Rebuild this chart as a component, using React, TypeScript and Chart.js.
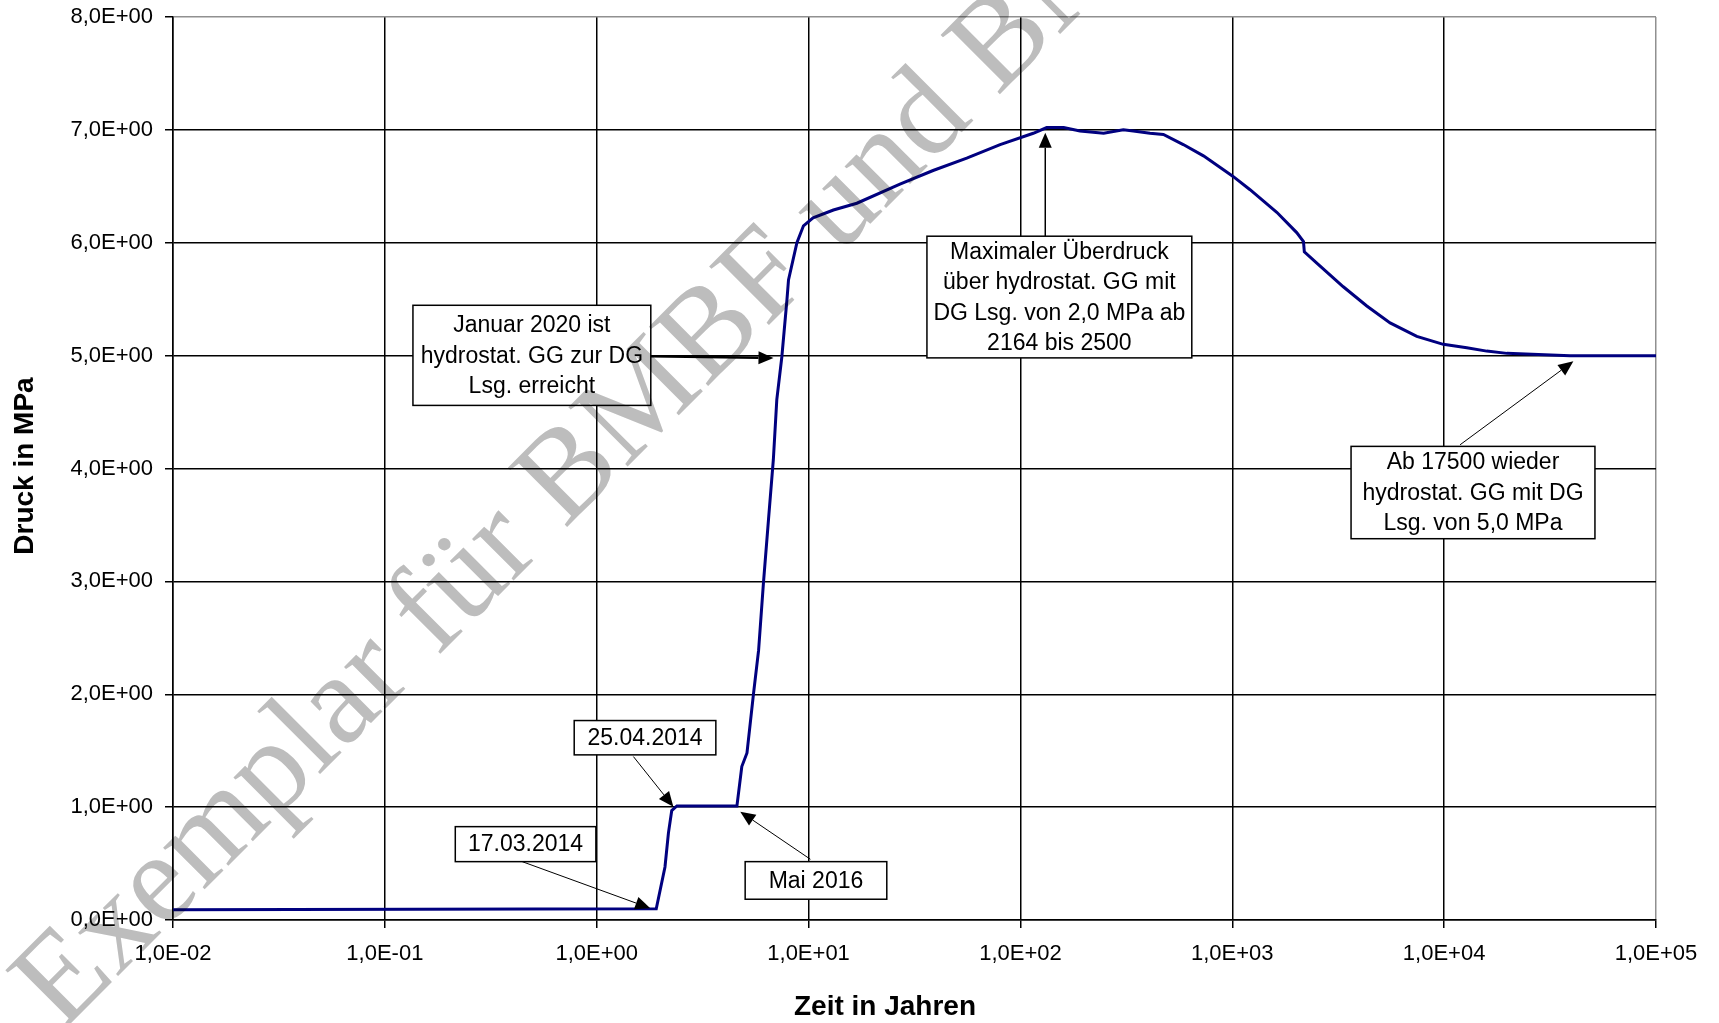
import React, { useEffect, useRef } from 'react';
import { Chart, registerables } from 'chart.js';

Chart.register(...registerables);

// ---- data ----
const timeYears = [
  0.01, 1.91, 2.10, 2.18, 2.26, 2.39,
  4.59, 4.84, 5.12, 5.50, 5.81,
  6.12, 6.47, 6.82, 7.08, 7.48,
  7.91, 8.04, 8.81, 9.46, 10.5,
  13.1, 16.9, 27.0, 38.7, 55.8,
  80.2, 115, 133, 160, 191,
  247, 306, 341, 409, 473,
  587, 731, 1005, 1213, 1622,
  2014, 2168, 2188, 2506, 3342,
  4315, 5559, 7430, 9908, 12790,
  15890, 19770, 39260, 100000,
];
const pressureMPa = [
  0.09, 0.10, 0.47, 0.77, 0.97, 1.01,
  1.01, 1.36, 1.48, 2.01, 2.39,
  2.98, 3.55, 4.08, 4.61, 4.99,
  5.50, 5.67, 6.00, 6.15, 6.22,
  6.29, 6.35, 6.52, 6.64, 6.75,
  6.87, 6.97, 7.02, 7.02, 6.99,
  6.97, 7.00, 6.99, 6.97, 6.96,
  6.87, 6.77, 6.59, 6.47, 6.27,
  6.09, 6.01, 5.92, 5.82, 5.61,
  5.44, 5.29, 5.17, 5.10, 5.07,
  5.04, 5.02, 5.00, 5.00,
];

const xTickValues = [0.01, 0.1, 1, 10, 100, 1000, 10000, 100000];
const xTickLabels = ['1,0E-02', '1,0E-01', '1,0E+00', '1,0E+01', '1,0E+02', '1,0E+03', '1,0E+04', '1,0E+05'];
const yTickValues = [0, 1, 2, 3, 4, 5, 6, 7, 8];
const yTickLabels = ['0,0E+00', '1,0E+00', '2,0E+00', '3,0E+00', '4,0E+00', '5,0E+00', '6,0E+00', '7,0E+00', '8,0E+00'];

const xTitle = 'Zeit in Jahren';
const yTitle = 'Druck in MPa';
const watermarkText = 'Exemplar für BMBF und BMU';

// annotation boxes (corners in data units: years / MPa)
const noteBoxes = [
  { lines: ['17.03.2014'], x1: 0.215, x2: 0.991, y1: 0.827, y2: 0.517 },
  { lines: ['25.04.2014'], x1: 0.783, x2: 3.65, y1: 1.767, y2: 1.463 },
  { lines: ['Mai 2016'], x1: 5.02, x2: 23.4, y1: 0.517, y2: 0.184 },
  { lines: ['Januar 2020 ist', 'hydrostat. GG zur DG', 'Lsg. erreicht'], x1: 0.1357, x2: 1.80, y1: 5.446, y2: 4.559 },
  { lines: ['Maximaler Überdruck', 'über hydrostat. GG mit', 'DG Lsg. von 2,0 MPa ab', '2164 bis 2500'], x1: 36.2, x2: 644, y1: 6.058, y2: 4.98 },
  { lines: ['Ab 17500 wieder', 'hydrostat. GG mit DG', 'Lsg. von 5,0 MPa'], x1: 3636, x2: 51500, y1: 4.196, y2: 3.378 },
];
// arrows (start and tip in data units)
const noteArrows = [
  { x0: 0.445, y0: 0.517, x1: 1.79, y1: 0.104, w: 1 },
  { x0: 1.49, y0: 1.448, x1: 2.30, y1: 1.004, w: 1 },
  { x0: 10.2, y0: 0.538, x1: 4.76, y1: 0.96, w: 1 },
  { x0: 1.80, y0: 4.994, x1: 6.83, y1: 4.98, w: 2.5 },
  { x0: 131, y0: 6.058, x1: 131, y1: 6.974, w: 1.5 },
  { x0: 11890, y0: 4.21, x1: 40740, y1: 4.95, w: 1 },
];

const SANS = '"Liberation Sans", Arial, Helvetica, sans-serif';

const fmtX = (v: number) => {
  const i = xTickValues.findIndex((t) => Math.abs(Math.log10(t) - Math.log10(v)) < 1e-6);
  return i >= 0 ? xTickLabels[i] : '';
};
const fmtY = (v: number) => {
  const i = yTickValues.findIndex((t) => Math.abs(t - v) < 1e-6);
  return i >= 0 ? yTickLabels[i] : '';
};

const annotationPlugin = {
  id: 'notes',
  afterDatasetsDraw(chart: any) {
    const { ctx } = chart;
    const xs = chart.scales.x;
    const ys = chart.scales.y;
    ctx.save();
    noteArrows.forEach((a) => {
      const px0 = xs.getPixelForValue(a.x0);
      const py0 = ys.getPixelForValue(a.y0);
      const px1 = xs.getPixelForValue(a.x1);
      const py1 = ys.getPixelForValue(a.y1);
      const ang = Math.atan2(py1 - py0, px1 - px0);
      const headLen = 15;
      const headW = 6.5;
      const bx = px1 - headLen * Math.cos(ang);
      const by = py1 - headLen * Math.sin(ang);
      ctx.strokeStyle = '#000';
      ctx.lineWidth = a.w;
      ctx.beginPath();
      ctx.moveTo(px0, py0);
      ctx.lineTo(bx, by);
      ctx.stroke();
      ctx.fillStyle = '#000';
      ctx.beginPath();
      ctx.moveTo(px1, py1);
      ctx.lineTo(bx + headW * Math.sin(ang), by - headW * Math.cos(ang));
      ctx.lineTo(bx - headW * Math.sin(ang), by + headW * Math.cos(ang));
      ctx.closePath();
      ctx.fill();
    });
    noteBoxes.forEach((b) => {
      const l = xs.getPixelForValue(b.x1);
      const r = xs.getPixelForValue(b.x2);
      const t = ys.getPixelForValue(b.y1);
      const bt = ys.getPixelForValue(b.y2);
      ctx.fillStyle = '#fff';
      ctx.fillRect(l, t, r - l, bt - t);
      ctx.strokeStyle = '#000';
      ctx.lineWidth = 1.5;
      ctx.strokeRect(l, t, r - l, bt - t);
      ctx.fillStyle = '#000';
      ctx.font = '23px ' + SANS;
      ctx.textAlign = 'center';
      ctx.textBaseline = 'middle';
      const lh = 30.5;
      const cx = (l + r) / 2;
      const cy = (t + bt) / 2;
      const n = b.lines.length;
      b.lines.forEach((s, i) => {
        ctx.fillText(s, cx, cy + (i - (n - 1) / 2) * lh + 1);
      });
    });
    ctx.restore();
  },
};

const titlesPlugin = {
  id: 'titles',
  afterDraw(chart: any) {
    const { ctx } = chart;
    ctx.save();
    ctx.fillStyle = '#000';
    ctx.font = 'bold 28px ' + SANS;
    ctx.textAlign = 'center';
    ctx.textBaseline = 'middle';
    ctx.fillText(xTitle, 885, 1007);
    ctx.translate(25, 466);
    ctx.rotate(-Math.PI / 2);
    ctx.fillText(yTitle, 0, 0);
    ctx.restore();
  },
};

const watermarkPlugin = {
  id: 'watermark',
  afterDraw(chart: any) {
    const { ctx } = chart;
    ctx.save();
    ctx.globalCompositeOperation = 'multiply';
    ctx.fillStyle = '#bdbdbd';
    ctx.font = '128px "Liberation Serif", "Times New Roman", serif';
    ctx.textAlign = 'left';
    ctx.textBaseline = 'alphabetic';
    ctx.translate(62, 1032);
    ctx.rotate((-45 * Math.PI) / 180);
    ctx.fillText(watermarkText, 0, 0);
    ctx.restore();
  },
};

export default function App() {
  const ref = useRef<HTMLCanvasElement | null>(null);
  useEffect(() => {
    if (!ref.current) return;
    const chart = new Chart(ref.current, {
      type: 'line',
      data: {
        datasets: [
          {
            data: timeYears.map((t, i) => ({ x: t, y: pressureMPa[i] })),
            borderColor: '#00007f',
            borderWidth: 3,
            pointRadius: 0,
            fill: false,
            tension: 0,
          },
        ],
      },
      options: {
        responsive: false,
        animation: false,
        layout: { padding: { left: 0, right: 63, top: 17, bottom: 0 } },
        plugins: { legend: { display: false }, tooltip: { enabled: false } },
        scales: {
          x: {
            type: 'logarithmic',
            min: 0.01,
            max: 100000,
            afterBuildTicks: (s: any) => {
              s.ticks = xTickValues.map((v) => ({ value: v, major: true }));
            },
            afterFit: (s: any) => {
              s.height = 103;
              s.paddingLeft = 0;
              s.paddingRight = 0;
            },
            ticks: {
              callback: (v: any) => fmtX(Number(v)),
              font: { family: SANS, size: 22 },
              color: '#000',
              padding: 13,
              maxRotation: 0,
              autoSkip: false,
            },
            grid: {
              color: (c: any) => (c.index === xTickValues.length - 1 ? '#909090' : '#000'),
              lineWidth: 1.5,
              tickLength: 8,
              tickColor: '#000',
            },
            border: { color: '#000', width: 1.5 },
          },
          y: {
            type: 'linear',
            min: 0,
            max: 8,
            afterBuildTicks: (s: any) => {
              s.ticks = yTickValues.map((v) => ({ value: v }));
            },
            afterFit: (s: any) => {
              s.width = 173;
              s.paddingTop = 0;
              s.paddingBottom = 0;
            },
            ticks: {
              callback: (v: any) => fmtY(Number(v)),
              font: { family: SANS, size: 22 },
              color: '#000',
              padding: 12,
              autoSkip: false,
            },
            grid: {
              color: (c: any) => (c.index === yTickValues.length - 1 ? '#909090' : '#000'),
              lineWidth: 1.5,
              tickLength: 8,
              tickColor: '#000',
            },
            border: { color: '#000', width: 1.5 },
          },
        },
      } as any,
      plugins: [annotationPlugin, titlesPlugin, watermarkPlugin],
    });
    return () => chart.destroy();
  }, []);
  return (
    <div style={{ position: 'fixed', left: 0, top: 0, width: 1719, height: 1023, background: '#fff' }}>
      <canvas ref={ref} width={1719} height={1023} style={{ display: 'block' }} />
    </div>
  );
}
